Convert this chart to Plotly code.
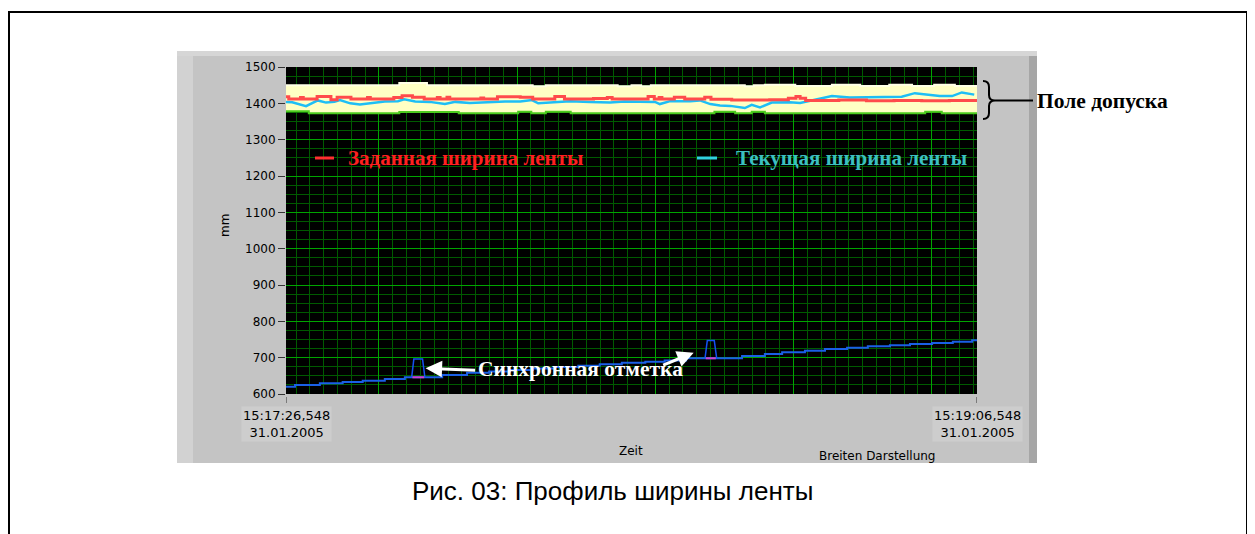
import plotly.graph_objects as go

# ---------------- data ----------------
# time axis: seconds after 15:17:26,548 (31.01.2005)
t_start_label = "15:17:26,548<br>31.01.2005"
t_end_label = "15:19:06,548<br>31.01.2005"
y_ticks = [600, 700, 800, 900, 1000, 1100, 1200, 1300, 1400, 1500]

upper_t = [0, 16.4, 20.4, 35.7, 37.6, 48.0, 50.0, 51.4, 52.8, 66.4, 67.7, 69.3, 73.7, 79.0, 83.1, 87.3, 90.6, 93.8, 96.8, 100]
upper_v = [1450, 1456, 1450, 1447, 1450, 1447, 1450, 1447, 1450, 1447, 1450, 1451, 1448, 1451, 1448, 1451, 1448, 1451, 1448, 1448]

lower_t = [0, 3.3, 16.4, 25.0, 33.6, 35.5, 37.6, 41.2, 62.0, 65.0, 67.4, 69.3, 92.5, 94.9, 100]
lower_v = [1378, 1373, 1376, 1373, 1377, 1373, 1377, 1373, 1377, 1373, 1377, 1373, 1377, 1373, 1373]

red_t = [0, 0.4, 2.1, 2.5, 4.5, 6.5, 7.4, 9.4, 11.8, 12.2, 15.6, 16.8, 18.3, 20.0, 21.9, 22.3, 23.3, 23.7,
         28.2, 28.6, 30.6, 33.9, 35.7, 38.9, 40.3, 44.5, 46.5, 47.2, 52.4, 53.3, 54.0, 54.4, 56.2, 57.7,
         60.6, 61.5, 64.5, 70.0, 72.7, 73.8, 74.4, 75.2, 80.0, 84.0, 88.0, 92.0, 96.0, 100]
red_v = [1418, 1412, 1416, 1412, 1419, 1410, 1417, 1412, 1416, 1412, 1416, 1421, 1417, 1412, 1416, 1412, 1417, 1412,
         1415, 1412, 1418, 1417, 1412, 1419, 1412, 1413, 1416, 1412, 1419, 1412, 1416, 1412, 1417, 1412,
         1417, 1411, 1409, 1410, 1414, 1419, 1414, 1408, 1409, 1407, 1408, 1407, 1408, 1408]

cyan_t = [0, 0.9, 2.9, 4.6, 5.8, 7.0, 7.8, 9.3, 10.7, 12.4, 14.3, 16.2, 17.1, 18.7, 20.8, 23.0, 24.5, 26.6,
          29.5, 31.7, 33.9, 35.6, 36.5, 38.9, 41.1, 44.0, 46.9, 49.0, 51.2, 53.4, 54.1, 55.6, 58.5, 59.9,
          61.4, 62.8, 64.3, 66.4, 67.4, 68.6, 70.3, 72.9, 74.4, 79.0, 81.6, 86.0, 89.1, 91.0, 94.6, 96.4, 97.8, 99.6]
cyan_v = [1404, 1403, 1392, 1408, 1402, 1404, 1409, 1400, 1397, 1401, 1405, 1406, 1411, 1405, 1404, 1398, 1404, 1401,
          1404, 1405, 1405, 1409, 1400, 1403, 1406, 1404, 1402, 1405, 1404, 1404, 1398, 1406, 1406, 1408,
          1398, 1394, 1393, 1387, 1396, 1389, 1402, 1403, 1401, 1420, 1416, 1416, 1418, 1428, 1420, 1420, 1430, 1424]

blue_t = [0, 1.3, 4.9, 8.2, 11.1, 14.3, 17.2, 22.6, 26.2, 29.4, 32.4, 35.7, 38.9, 42.3, 45.4, 48.6, 52.0,
          54.8, 57.9, 66.0, 69.3, 71.8, 75.1, 78.0, 81.2, 84.2, 87.4, 90.3, 93.5, 96.5, 99.3, 100]
blue_v = [620, 625, 629.5, 633, 636.7, 641.3, 646, 652.3, 658.7, 662, 666, 670, 674, 678, 682, 686, 689,
          692, 698.3, 704.7, 710.2, 714.8, 719.3, 724, 727.6, 731.3, 734, 737.7, 740.5, 744, 747.9, 747.9]

sync1_t = [18.19, 18.5, 19.76, 20.1]
sync1_v = [646, 696, 696, 646]
sync2_t = [60.64, 60.97, 61.98, 62.33]
sync2_v = [698.3, 747, 747, 698.3]
sync_base1_t = [18.3, 20.0]
sync_base2_t = [60.75, 62.2]

# ---------------- layout geometry ----------------
PAGE_W, PAGE_H = 1255, 534
OFF = 8  # page body margin
W, H = PAGE_W - OFF, PAGE_H - OFF
L, R, T, B = 286, 977, 67, 394  # plot area in page pixels


def px(X):
    return (X - L) / (R - L)


def py(Y):
    return (B - Y) / (B - T)


fig = go.Figure()

fig.add_trace(go.Scatter(x=upper_t, y=upper_v, mode="lines", line=dict(color="#FFFFE6", width=2, shape="hv"),
                         showlegend=False, hoverinfo="skip"))
fig.add_trace(go.Scatter(x=lower_t, y=lower_v, mode="lines", line=dict(color="#4CCB1E", width=2, shape="hv"),
                         fill="tonexty", fillcolor="#FFFFC4", showlegend=False, hoverinfo="skip"))
fig.add_trace(go.Scatter(x=cyan_t, y=cyan_v, mode="lines", line=dict(color="#1EBEF5", width=2.5),
                         name="Текущая ширина ленты", showlegend=False))
fig.add_trace(go.Scatter(x=red_t, y=red_v, mode="lines", line=dict(color="#FF4B4B", width=3, shape="hv"),
                         name="Заданная ширина ленты", showlegend=False))
fig.add_trace(go.Scatter(x=blue_t, y=blue_v, mode="lines", line=dict(color="#1A5FE6", width=2, shape="hv"),
                         showlegend=False))
for st, sv in ((sync1_t, sync1_v), (sync2_t, sync2_v)):
    fig.add_trace(go.Scatter(x=st, y=sv, mode="lines", line=dict(color="#1450F0", width=1.5),
                             showlegend=False))
fig.add_trace(go.Scatter(x=sync_base1_t, y=[sync1_v[0]] * 2, mode="lines",
                         line=dict(color="#D040D0", width=2), showlegend=False))
fig.add_trace(go.Scatter(x=sync_base2_t, y=[sync2_v[0]] * 2, mode="lines",
                         line=dict(color="#D040D0", width=2), showlegend=False))

shapes = []
# grey LabVIEW panel
shapes.append(dict(type="rect", xref="paper", yref="paper", x0=px(177), x1=px(1037), y0=py(463), y1=py(51),
                   fillcolor="#C4C4C4", line=dict(width=0), layer="below"))
shapes.append(dict(type="rect", xref="paper", yref="paper", x0=px(177), x1=px(193), y0=py(463), y1=py(51),
                   fillcolor="#D2D2D2", line=dict(width=0), layer="below"))
shapes.append(dict(type="rect", xref="paper", yref="paper", x0=px(177), x1=px(1037), y0=py(56), y1=py(51),
                   fillcolor="#D6D6D6", line=dict(width=0), layer="below"))
shapes.append(dict(type="rect", xref="paper", yref="paper", x0=px(1029), x1=px(1037), y0=py(463), y1=py(56),
                   fillcolor="#A6A6A6", line=dict(width=0), layer="below"))
# plot background
shapes.append(dict(type="rect", xref="paper", yref="paper", x0=0, x1=1, y0=0, y1=1,
                   fillcolor="#000000", line=dict(width=0), layer="below"))
# outer frame
for (x0, y0, x1, y1) in ((9, 11, 9, 540), (8, 12, 1248, 12), (1247, 11, 1247, 540)):
    shapes.append(dict(type="line", xref="paper", yref="paper", x0=px(x0), y0=py(y0), x1=px(x1), y1=py(y1),
                       line=dict(color="#000000", width=2)))
# x end tick marks
for tx in (0, 100):
    shapes.append(dict(type="line", xref="x", yref="paper", x0=tx, x1=tx, y0=py(397), y1=py(403),
                       line=dict(color="#333333", width=1)))
# legend samples
shapes.append(dict(type="line", xref="paper", yref="paper", x0=px(315), x1=px(334), y0=py(158), y1=py(158),
                   line=dict(color="#FF3030", width=3)))
shapes.append(dict(type="line", xref="paper", yref="paper", x0=px(697), x1=px(717), y0=py(158), y1=py(158),
                   line=dict(color="#30D0E0", width=3)))
# brace for tolerance band
pts = [(983, 81), (989, 81), (989, 87), (989, 95), (989, 100.5), (995, 100.5), (989, 100.5), (989, 106),
       (989, 113), (989, 119), (983, 119)]
p = [(px(a), py(b)) for a, b in pts]
path = (f"M {p[0][0]},{p[0][1]} Q {p[1][0]},{p[1][1]} {p[2][0]},{p[2][1]} L {p[3][0]},{p[3][1]} "
        f"Q {p[4][0]},{p[4][1]} {p[5][0]},{p[5][1]} Q {p[6][0]},{p[6][1]} {p[7][0]},{p[7][1]} "
        f"L {p[8][0]},{p[8][1]} Q {p[9][0]},{p[9][1]} {p[10][0]},{p[10][1]}")
shapes.append(dict(type="path", xref="paper", yref="paper", path=path, line=dict(color="#000000", width=2)))
shapes.append(dict(type="line", xref="paper", yref="paper", x0=px(995), x1=px(1033), y0=py(100.5), y1=py(100.5),
                   line=dict(color="#000000", width=2)))

serif = "Liberation Serif, Times New Roman, serif"
sans = "DejaVu Sans, Verdana, sans-serif"
ann = []
ann.append(dict(xref="paper", yref="paper", x=px(346), y=py(158), xanchor="left", yanchor="middle",
                text="<b>Заданная ширина ленты</b>", showarrow=False,
                font=dict(family=serif, size=21, color="#FF2020")))
ann.append(dict(xref="paper", yref="paper", x=px(734), y=py(158), xanchor="left", yanchor="middle",
                text="<b>Текущая ширина ленты</b>", showarrow=False,
                font=dict(family=serif, size=21, color="#3CC0C0")))
ann.append(dict(xref="paper", yref="paper", x=px(1035), y=py(101), xanchor="left", yanchor="middle",
                text="<b>Поле допуска</b>", showarrow=False,
                font=dict(family=serif, size=21.5, color="#000000")))
ann.append(dict(xref="paper", yref="paper", x=px(580), y=py(369), xanchor="center", yanchor="middle",
                text="<b>Синхронная отметка</b>", showarrow=False,
                font=dict(family=serif, size=21.5, color="#FFFFFF")))
# arrows
ann.append(dict(xref="x", yref="y", x=20.2, y=670.8, ax=51, ay=2, text="", showarrow=True,
                arrowhead=2, arrowsize=1.1, arrowwidth=3, arrowcolor="#FFFFFF"))
ann.append(dict(xref="x", yref="y", x=59.0, y=713.8, ax=-32, ay=13, text="", showarrow=True,
                arrowhead=2, arrowsize=1.1, arrowwidth=3, arrowcolor="#FFFFFF"))
# x end labels
for tx, lab in ((0, t_start_label), (100, t_end_label)):
    ann.append(dict(xref="x", yref="paper", x=tx, y=py(424), xanchor="center", yanchor="middle",
                    text=lab, showarrow=False, bgcolor="#CDCDCD", borderpad=1,
                    font=dict(family=sans, size=13, color="#000000")))
ann.append(dict(xref="paper", yref="paper", x=px(631), y=py(451), xanchor="center", yanchor="middle",
                text="Zeit", showarrow=False, font=dict(family=sans, size=12, color="#000000")))
ann.append(dict(xref="paper", yref="paper", x=px(877), y=py(456), xanchor="center", yanchor="middle",
                text="Breiten Darstellung", showarrow=False, font=dict(family=sans, size=12, color="#000000")))
ann.append(dict(xref="paper", yref="paper", x=px(225), y=py(226), xanchor="center", yanchor="middle",
                text="mm", textangle=-90, showarrow=False, font=dict(family=sans, size=12, color="#000000")))
ann.append(dict(xref="paper", yref="paper", x=px(612), y=py(491), xanchor="center", yanchor="middle",
                text="Рис. 03: Профиль ширины ленты", showarrow=False,
                font=dict(family="Liberation Sans, Arial, sans-serif", size=26, color="#000000")))

fig.update_layout(
    width=W, height=H, autosize=False,
    margin=dict(l=L - OFF, r=PAGE_W - R, t=T - OFF, b=PAGE_H - B, pad=0),
    paper_bgcolor="#FFFFFF", plot_bgcolor="#000000",
    showlegend=False,
    shapes=shapes, annotations=ann,
    xaxis=dict(range=[0, 100], tick0=13.452, dtick=20, showticklabels=False, ticks="",
               showgrid=True, gridcolor="#00A400", gridwidth=1, zeroline=False, showline=False,
               minor=dict(tick0=13.452, dtick=2, showgrid=True, gridcolor="#005A00", gridwidth=1, ticks="")),
    yaxis=dict(range=[600, 1500], tickvals=y_ticks, ticks="outside", ticklen=7, tickcolor="#333333",
               tickfont=dict(family=sans, size=12, color="#000000"),
               showgrid=True, gridcolor="#00A400", gridwidth=1, zeroline=False, showline=False,
               minor=dict(dtick=25, showgrid=True, gridcolor="#005A00", gridwidth=1, ticks="")),
)

fig.write_html("out.html", config={"displayModeBar": False})
